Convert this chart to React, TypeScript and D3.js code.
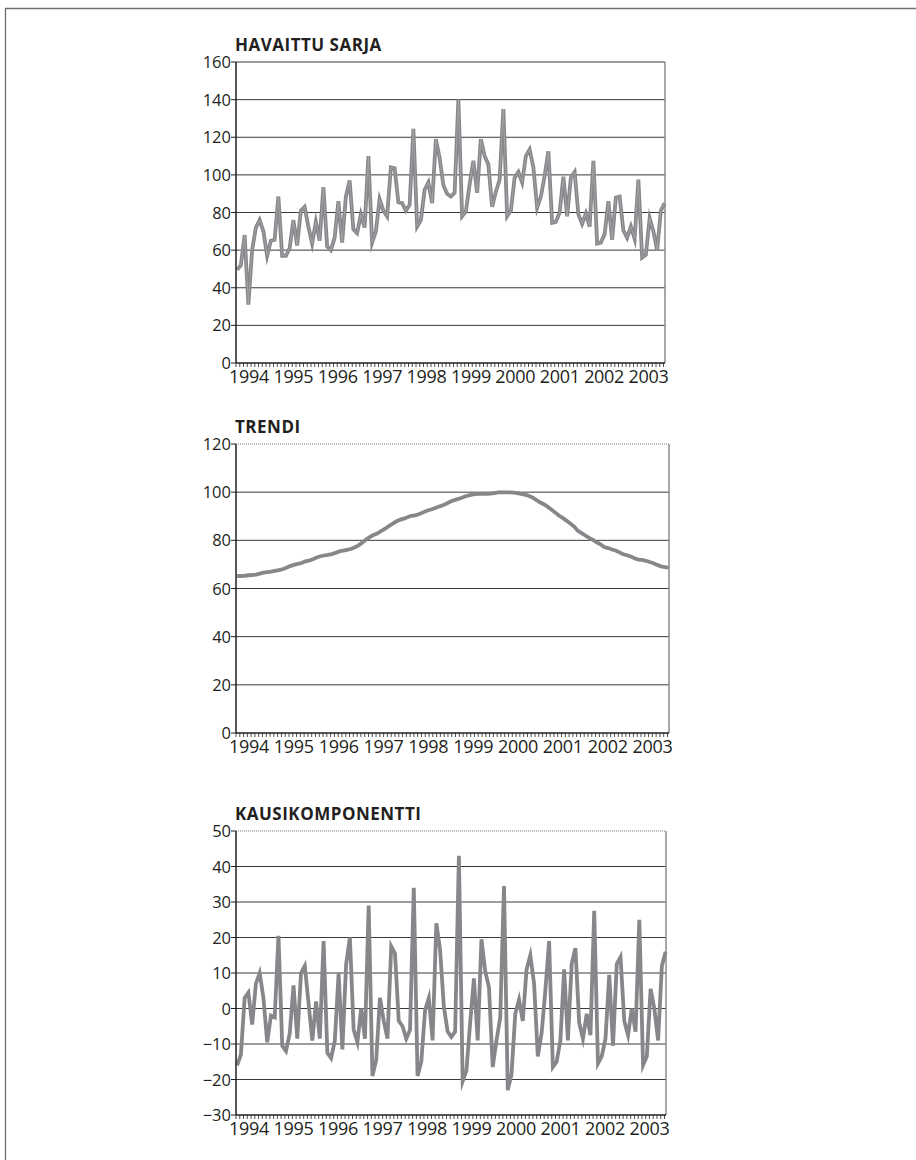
import * as d3 from 'd3'

// monthly series, Jan 1994 - Jul 2003
const yearLabels = ['1994', '1995', '1996', '1997', '1998', '1999', '2000', '2001', '2002', '2003']

const observed = [
  49.5, 52, 68, 31, 60, 72, 76, 70, 57, 65, 65.5, 88.5,
  57, 57, 61, 76, 62.5, 81, 83, 72.5, 63.5, 75, 65, 93.5,
  62, 60, 66.5, 86, 64, 88.5, 97, 71, 69, 79, 72, 110,
  64, 70, 87, 81, 78, 104, 103.5, 85.5, 85, 81, 84, 124.5,
  72.5, 76, 92, 96, 85, 119, 109, 94.5, 90, 88.5, 90.5, 140,
  78, 80.5, 95, 107.5, 90.5, 119, 110, 105.5, 83, 91, 97.5, 135,
  78, 81, 98.5, 101.5, 96, 110, 113.5, 104, 82.5, 88.5, 99.5, 112.5,
  74.5, 75, 80, 99, 78, 98.5, 101.5, 79, 74, 79.5, 72.5, 107.5,
  63.5, 64, 68.5, 86, 65.5, 88, 88.5, 70.5, 66.5, 72.5, 66, 97.5,
  56, 57.5, 77, 70, 60, 81, 85,
]

const trend = [
  65.2, 65.2, 65.3, 65.5, 65.6, 65.8, 66.2, 66.6, 66.8, 67.0, 67.3, 67.6,
  68.0, 68.6, 69.3, 69.8, 70.2, 70.6, 71.3, 71.6, 72.1, 72.9, 73.4, 73.7,
  74.0, 74.3, 74.8, 75.4, 75.7, 76.0, 76.4, 77.0, 77.8, 79.0, 80.2, 81.3,
  82.2, 82.8, 83.8, 84.7, 85.8, 86.8, 87.8, 88.5, 89.0, 89.6, 90.2, 90.4,
  90.8, 91.5, 92.2, 92.7, 93.2, 93.8, 94.4, 95.0, 95.8, 96.5, 97.0, 97.5,
  98.1, 98.6, 99.0, 99.2, 99.3, 99.3, 99.3, 99.4, 99.6, 99.9, 99.9, 99.9,
  99.9, 99.8, 99.6, 99.3, 99.0, 98.5, 97.8, 96.8, 95.8, 95.0, 94.0, 92.8,
  91.6, 90.3, 89.3, 88.2, 87.0, 85.8, 84.0, 83.0, 82.0, 81.0, 80.2, 79.2,
  78.3, 77.2, 76.8, 76.2, 75.8, 75.0, 74.2, 73.8, 73.3, 72.6, 72.0, 71.9,
  71.5, 71.0, 70.5, 69.8, 69.2, 68.9, 68.7,
]

const seasonal = [
  -16, -13, 3, 4.5, -4.5, 7, 10, 3, -9.5, -2, -2.5, 20.5,
  -10.5, -12, -7, 6.5, -8.5, 10, 12, 1.5, -9, 2, -8.5, 19,
  -12.5, -14, -9, 10, -11.5, 12.5, 20, -6, -9.5, 0, -8.5, 29,
  -19, -14.5, 3, -3.5, -8.5, 17.5, 15.5, -3.5, -5, -8.5, -6, 34,
  -19, -15, -0.5, 3, -9, 24, 16.5, 0.5, -6.5, -8, -6.5, 43,
  -20.5, -17.5, -4, 8.5, -9, 19.5, 10.5, 6, -16.5, -9, -2.5, 34.5,
  -23, -18.5, -1.5, 2.5, -3.5, 11, 15, 7, -13.5, -7, 5, 19,
  -16.5, -15, -9, 11, -9, 12.5, 17, -4, -8.5, -1.5, -7.5, 27.5,
  -15.5, -13.5, -8.5, 9.5, -10.5, 12.5, 14.5, -3.5, -7.5, 0, -6.5, 25,
  -16, -13.5, 5.5, 0, -9, 12, 16,
]

const observedTicks = [0, 20, 40, 60, 80, 100, 120, 140, 160]
const trendTicks = [0, 20, 40, 60, 80, 100, 120]
const seasonalTicks = [-30, -20, -10, 0, 10, 20, 30, 40, 50]

const font = '"Open Sans", "Noto Sans", sans-serif'
const ink = '#231f20'
const left = 236

function fmt(v: number) {
  return v < 0 ? '\u2212' + Math.abs(v) : String(v)
}

interface PanelProps {
  title: string
  values: number[]
  ticks: number[]
  top: number
  bottom: number
  right: number
  dottedTop?: boolean
  hollow?: boolean
}

function Panel({ title, values, ticks, top, bottom, right, dottedTop, hollow }: PanelProps) {
  const n = values.length
  const x = d3.scaleLinear().domain([-0.3, n - 0.9]).range([left, right])
  const y = d3.scaleLinear().domain([ticks[0], ticks[ticks.length - 1]]).range([bottom, top])
  const yearX = d3.scaleLinear()
    .domain([+yearLabels[0], +yearLabels[yearLabels.length - 1]])
    .range([left + 13, right - 16.5])
  const line = d3.line<number>().x((_, i) => x(i)).y(d => y(d))
  const path = line(values) || ''
  const monthTicks = d3.range(n).map(i => x(i - 0.3))

  return (
    <g>
      <text x={left - 1} y={top - 11} fontFamily={font} fontWeight={700} fontSize={17}
        letterSpacing={0.5} fill={ink}>{title}</text>

      {/* gridlines */}
      {ticks.slice(1).map((t, k) => {
        const isTop = k === ticks.length - 2
        return (
          <line key={t} x1={left} x2={right} y1={y(t)} y2={y(t)}
            stroke={isTop && dottedTop ? '#777' : '#3a3a3a'}
            strokeWidth={1}
            strokeDasharray={isTop && dottedTop ? '1 1' : undefined} />
        )
      })}
      <line x1={right} x2={right} y1={top} y2={bottom} stroke="#8a8a8a" strokeWidth={1.5} />

      {/* y axis */}
      {ticks.map(t => (
        <g key={'y' + t}>
          <line x1={left - 5} x2={left} y1={y(t)} y2={y(t)} stroke={ink} strokeWidth={1} />
          <text x={left - 5} y={y(t) + 6} textAnchor="end" fontFamily={font} fontSize={16.5}
            fill={ink}>{fmt(t)}</text>
        </g>
      ))}

      {/* series */}
      <path d={path} fill="none" stroke="#87878b" strokeWidth={3.8} strokeLinejoin="miter" strokeMiterlimit={6} />
      {hollow && <path d={path} fill="none" stroke="#a9a9ac" strokeWidth={0.8} />}

      {/* x axis */}
      {monthTicks.map((tx, i) => (
        <line key={'m' + i} x1={tx} x2={tx} y1={bottom} y2={bottom + 4} stroke={ink} strokeWidth={0.8} />
      ))}
      <line x1={left} x2={right} y1={bottom} y2={bottom} stroke={ink} strokeWidth={1.5} />
      <line x1={left} x2={left} y1={top} y2={bottom} stroke={ink} strokeWidth={1.5} />
      {yearLabels.map(yr => (
        <text key={yr} x={yearX(+yr)} y={bottom + 20} textAnchor="middle" fontFamily={font}
          fontSize={18} letterSpacing={-0.3} fill={ink}>{yr}</text>
      ))}
    </g>
  )
}

export default function App() {
  return (
    <svg width={916} height={1160} style={{ position: 'absolute', left: 0, top: 0, background: '#fff' }}>
      <rect width={916} height={1160} fill="#fff" />
      <path d="M916 8.5H5.5V1160" fill="none" stroke="#6e6e6e" strokeWidth={1.3} />
      <Panel title="HAVAITTU SARJA" values={observed} ticks={observedTicks}
        top={62} bottom={363} right={665} hollow />
      <Panel title="TRENDI" values={trend} ticks={trendTicks}
        top={444} bottom={733} right={669} dottedTop />
      <Panel title="KAUSIKOMPONENTTI" values={seasonal} ticks={seasonalTicks}
        top={831} bottom={1115} right={666} dottedTop />
    </svg>
  )
}
